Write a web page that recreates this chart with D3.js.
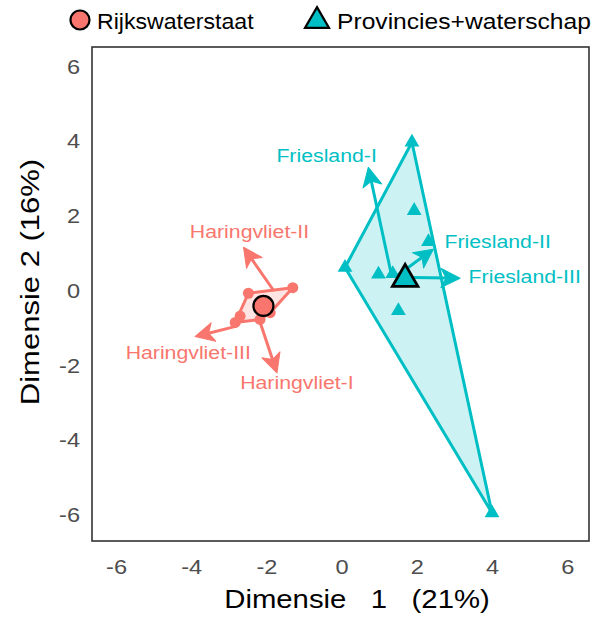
<!DOCTYPE html>
<html><head><meta charset="utf-8">
<script src="https://cdn.jsdelivr.net/npm/d3@7"></script>
<style>body{margin:0;background:#fff}svg{display:block}</style>
</head><body>
<script>
// ---- data ----
const groups = ["Rijkswaterstaat", "Provincies+waterschap"];
const groupColors = ["#F8766D", "#00BFC4"];
const rwsX = [-2.48, -1.30, -2.70, -2.83, -2.17, -1.90];
const rwsY = [-0.09, 0.06, -0.70, -0.87, -0.79, -0.61];
const pwX = [1.87, 1.93, 2.31, 0.09, 0.98, 1.36, 1.51, 4.00];
const pwY = [3.95, 2.12, 1.29, 0.60, 0.42, 0.43, -0.56, -5.97];
const centroidX = [-2.08, 1.69];
const centroidY = [-0.43, 0.29];
const arrowLabels = ["Haringvliet-I", "Haringvliet-II", "Haringvliet-III", "Friesland-I", "Friesland-II", "Friesland-III"];
const arrowGroup = [0, 0, 0, 1, 1, 1];
const arrowX0 = [-2.17, -1.80, -2.79, 1.34, 1.47, 1.91];
const arrowY0 = [-0.86, -0.03, -0.97, 0.33, 0.38, 0.33];
const arrowX1 = [-1.72, -2.61, -3.90, 0.71, 2.44, 3.15];
const arrowY1 = [-2.22, 1.14, -1.25, 3.28, 1.09, 0.31];
const labelX = [-1.19, -2.45, -4.08, -0.40, 4.15, 4.87];
const labelY = [-2.53, 1.53, -1.72, 3.54, 1.25, 0.31];
const xTicks = [-6, -4, -2, 0, 2, 4, 6];
const yTicks = [-6, -4, -2, 0, 2, 4, 6];
const xTitle = "Dimensie   1   (21%)";
const yTitle = "Dimensie 2 (16%)";

// ---- layout ----
const W = 597, H = 617;
const box = {l: 92, r: 589, t: 47, b: 541};
const SX = 1.15;
const svg = d3.select("body").append("svg").attr("width", W).attr("height", H);
const x = d3.scaleLinear().domain([-6.64, 6.58]).range([box.l, box.r]);
const y = d3.scaleLinear().domain([-6.72, 6.5]).range([box.b, box.t]);

function stext(sel, px, py, str, o) {
  o = o || {};
  return sel.append("text")
    .attr("transform", `translate(${px},${py})${o.rotate ? ` rotate(${o.rotate})` : ""} scale(${o.sx || SX},1)`)
    .attr("text-anchor", o.anchor || "middle")
    .attr("dominant-baseline", o.baseline || "auto")
    .attr("font-family", "Liberation Sans, Arial, sans-serif")
    .attr("font-size", o.size || 17)
    .attr("fill", o.fill || "#000")
    .style("white-space", "pre")
    .text(str);
}

// panel border
svg.append("rect").attr("x", box.l).attr("y", box.t)
  .attr("width", box.r - box.l).attr("height", box.b - box.t)
  .attr("fill", "none").attr("stroke", "#333").attr("stroke-width", 1.6);

// axes (ticks via d3 axis, text restyled)
const ax = svg.append("g").attr("transform", `translate(0,${box.b})`)
  .call(d3.axisBottom(x).tickValues(xTicks).tickSize(0).tickPadding(0).tickFormat(d3.format("d")));
ax.select(".domain").remove();
ax.selectAll(".tick text").remove();
ax.selectAll(".tick").each(function(d) {
  stext(d3.select(this), 0, 33, String(d), {size: 20.5, fill: "#4d4d4d"});
});
const ay = svg.append("g").attr("transform", `translate(${box.l},0)`)
  .call(d3.axisLeft(y).tickValues(yTicks).tickSize(0).tickPadding(0).tickFormat(d3.format("d")));
ay.select(".domain").remove();
ay.selectAll(".tick text").remove();
ay.selectAll(".tick").each(function(d) {
  stext(d3.select(this), -12, 7.5, String(d), {size: 20.5, fill: "#4d4d4d", anchor: "end"});
});

stext(svg, 357, 608, xTitle, {size: 25.5});
stext(svg, 39, 282, yTitle, {size: 26.5, rotate: -90, sx: 1.17});

const plot = svg.append("g");
const groupsPts = [
  d3.zip(rwsX, rwsY),
  d3.zip(pwX, pwY)
];

// hulls
groupsPts.forEach((pts, i) => {
  const hull = d3.polygonHull(pts.map(p => [x(p[0]), y(p[1])]));
  plot.append("path").attr("d", "M" + hull.join("L") + "Z")
    .attr("fill", groupColors[i]).attr("fill-opacity", 0.2)
    .attr("stroke", groupColors[i]).attr("stroke-width", 3).attr("stroke-linejoin", "round");
});

// arrows (shaft + notched head)
const HL = 19, HW = 9.5, NOTCH = 5;
arrowLabels.forEach((lab, i) => {
  const c = groupColors[arrowGroup[i]];
  const x0 = x(arrowX0[i]), y0 = y(arrowY0[i]), x1 = x(arrowX1[i]), y1 = y(arrowY1[i]);
  const ang = Math.atan2(y1 - y0, x1 - x0) * 180 / Math.PI;
  const len = Math.hypot(x1 - x0, y1 - y0);
  const g = plot.append("g").attr("transform", `translate(${x0},${y0}) rotate(${ang})`);
  g.append("line").attr("x1", 0).attr("y1", 0).attr("x2", len - HL + NOTCH + 1).attr("y2", 0)
    .attr("stroke", c).attr("stroke-width", 3);
  g.append("path")
    .attr("d", `M${len},0 L${len - HL},${-HW} L${len - HL + NOTCH},0 L${len - HL},${HW} Z`)
    .attr("fill", c).attr("stroke", c).attr("stroke-width", 1).attr("stroke-linejoin", "round");
});

// points
plot.selectAll(".rp").data(groupsPts[0]).join("circle")
  .attr("cx", d => x(d[0])).attr("cy", d => y(d[1])).attr("r", 5.5)
  .attr("fill", groupColors[0]);
plot.selectAll(".tp").data(groupsPts[1]).join("path")
  .attr("transform", d => `translate(${x(d[0])},${y(d[1])})`)
  .attr("d", d3.symbol(d3.symbolTriangle, 95)())
  .attr("fill", groupColors[1]);

// labels
arrowLabels.forEach((lab, i) => {
  stext(plot, x(labelX[i]), y(labelY[i]), lab, {size: 18.5, fill: groupColors[arrowGroup[i]], baseline: "middle"});
});

// centroids
plot.append("circle").attr("cx", x(centroidX[0])).attr("cy", y(centroidY[0])).attr("r", 10)
  .attr("fill", groupColors[0]).attr("stroke", "#000").attr("stroke-width", 2.2);
plot.append("path").attr("transform", `translate(${x(centroidX[1])},${y(centroidY[1])})`)
  .attr("d", d3.symbol(d3.symbolTriangle, 280)())
  .attr("fill", groupColors[1]).attr("stroke", "#000").attr("stroke-width", 2.8);

// legend
const lg = svg.append("g");
lg.append("circle").attr("cx", 80).attr("cy", 20).attr("r", 9.5)
  .attr("fill", groupColors[0]).attr("stroke", "#000").attr("stroke-width", 2.2);
stext(lg, 97, 29, groups[0], {size: 22, anchor: "start", sx: 1.05});
lg.append("path").attr("transform", `translate(317,21)`)
  .attr("d", d3.symbol(d3.symbolTriangle, 250)())
  .attr("fill", groupColors[1]).attr("stroke", "#000").attr("stroke-width", 2.2);
stext(lg, 337, 29, groups[1], {size: 22, anchor: "start", sx: 1.12});
</script>
</body></html>
